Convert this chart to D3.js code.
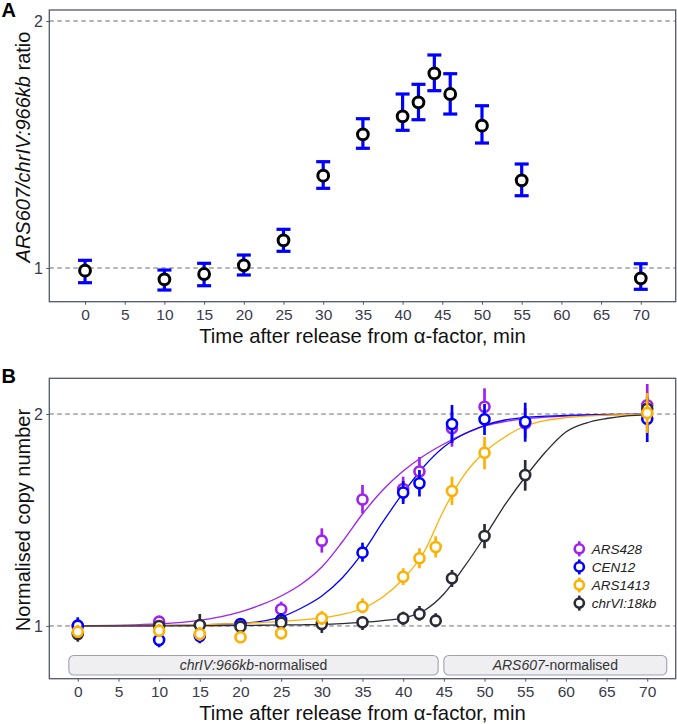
<!DOCTYPE html>
<html><head><meta charset="utf-8">
<script src="https://cdn.jsdelivr.net/npm/d3@7"></script>
<style>body{margin:0;background:#fff;} svg{display:block;font-family:"Liberation Sans",Arial,Helvetica,sans-serif;}</style>
</head><body><svg id="c" width="677" height="724"></svg>
<script>
// ---------- Panel A data ----------
const timesA = [0,10,15,20,25,30,35,40,42,44,46,50,55,70];
const ratioA   = [0.9925,0.9688,0.9833,1.0076,1.0808,1.2956,1.4553,1.5306,1.5919,1.7271,1.6295,1.4908,1.2790,0.9715];
const ratioLoA = [0.9596,0.9401,0.9515,0.9806,1.0480,1.2506,1.3993,1.4717,1.5161,1.6448,1.5405,1.4201,1.2249,0.9420];
const ratioHiA = [1.0218,0.9944,1.0133,1.0371,1.1147,1.3477,1.5204,1.6295,1.6745,1.8181,1.7251,1.5768,1.3389,1.0121];

const xTicks = [0,5,10,15,20,25,30,35,40,45,50,55,60,65,70];
const yTicks = [1,2];
const xTitle = "Time after release from \u03b1-factor, min";

// ---------- Panel B data ----------
const seriesNames  = ["ARS428","CEN12","ARS1413","chrVI:18kb"];
const seriesColors = ["#A020F0","#0000FF","#FFB000","#2B2B38"];

const ars428T  = [0,10,25,30,35,40,42,46,50,55,70];
const ars428V  = [1.0000,1.0142,1.0561,1.3217,1.5122,1.5650,1.6572,1.9086,2.0483,1.9400,2.0576];
const ars428Lo = [0.9774,0.9935,1.0299,1.2709,1.4455,1.5048,1.5805,1.7973,1.9293,1.8490,1.9230];
const ars428Hi = [1.0231,1.0333,1.0827,1.3763,1.5856,1.6292,1.7378,2.0131,2.1754,2.0396,2.2061];

const cen12T  = [0,10,15,20,25,35,40,42,46,50,55,70];
const cen12V  = [1.0010,0.9553,0.9678,1.0065,1.0198,1.2709,1.5473,1.5945,1.9356,1.9656,1.9503,1.9694];
const cen12Lo = [0.9742,0.9327,0.9450,0.9870,0.9967,1.2339,1.4902,1.5271,1.8190,1.8671,1.8268,1.8250];
const cen12Hi = [1.0288,0.9806,0.9935,1.0265,1.0434,1.3130,1.6066,1.6653,2.0598,2.0666,2.0752,2.1144];

const ars1413T  = [0,10,15,20,25,30,35,40,42,44,46,50,70];
const ars1413V  = [0.9815,0.9847,0.9742,0.9637,0.9764,1.0255,1.0651,1.1749,1.2477,1.2947,1.5549,1.7623,2.0065];
const ars1413Lo = [0.9615,0.9647,0.9521,0.9459,0.9568,1.0033,1.0424,1.1435,1.2077,1.2510,1.4854,1.6693,1.8795];
const ars1413Hi = [1.0033,1.0065,0.9967,0.9838,0.9967,1.0503,1.0948,1.2077,1.2892,1.3408,1.6292,1.8569,2.1422];

const chr6T  = [0,10,15,20,25,30,35,40,42,44,46,50,55,70];
const chr6V  = [0.9742,1.0000,1.0033,0.9977,1.0109,1.0065,1.0122,1.0255,1.0400,1.0175,1.1688,1.3421,1.6384,2.0350];
const chr6Lo = [0.9499,0.9806,0.9806,0.9774,0.9902,0.9774,0.9870,1.0033,1.0175,0.9958,1.1360,1.2892,1.5564,1.9739];
const chr6Hi = [1.0000,1.0198,1.0400,1.0175,1.0333,1.0299,1.0309,1.0479,1.0675,1.0424,1.2010,1.3958,1.7207,2.0935];

// fitted curves on a common time grid
const curveT = [0,10,15,20,22.5,25,27.5,30,32.5,35,37.5,40,42.5,45,47.5,50,52.5,55,57.5,60,62.5,65,67.5,70];
const ars428Fit  = [1.0000,1.0065,1.0181,1.0468,1.0711,1.1031,1.1472,1.2127,1.3160,1.4422,1.5600,1.6599,1.7434,1.8133,1.8736,1.9230,1.9515,1.9690,1.9793,1.9870,1.9916,1.9947,1.9967,1.9981];
const cen12Fit   = [1.0000,1.0013,1.0033,1.0082,1.0148,1.0299,1.0606,1.1031,1.1699,1.2696,1.4050,1.5448,1.6818,1.7954,1.8734,1.9262,1.9611,1.9773,1.9856,1.9916,1.9947,1.9967,1.9981,1.9988];
const ars1413Fit = [1.0000,1.0016,1.0039,1.0082,1.0112,1.0148,1.0198,1.0265,1.0383,1.0588,1.0995,1.1661,1.2696,1.4612,1.6384,1.7664,1.8553,1.9230,1.9578,1.9759,1.9856,1.9921,1.9954,1.9974];
const chr6Fit    = [1.0000,1.0000,1.0007,1.0016,1.0023,1.0033,1.0039,1.0049,1.0075,1.0115,1.0175,1.0265,1.0503,1.1103,1.2127,1.3377,1.4854,1.6276,1.7664,1.8856,1.9419,1.9708,1.9882,1.9947];

// normalisation strips
const stripItalic = ["chrIV:966kb","ARS607"];
const stripSuffix = "-normalised";
const stripFrom = [-1.1, 45.0];
const stripTo   = [44.3, 72.4];

// ---------- drawing ----------
const svg = d3.select("#c");
const tickCol = "#3a3a4c", frameCol = "#55556a", dashCol = "#6a6a7a";

function axes(g, x, y, box, yFont) {
  const xa = d3.axisBottom(x).tickValues(xTicks).tickFormat(d3.format("d")).tickSize(3).tickPadding(4.3);
  const gx = g.append("g").attr("transform", `translate(0,${box.b})`).call(xa);
  const ya = d3.axisLeft(y).tickValues(yTicks).tickFormat(d3.format("d")).tickSize(3).tickPadding(3.3);
  const gy = g.append("g").attr("transform", `translate(${box.l},0)`).call(ya);
  [gx, gy].forEach(a => {
    a.select(".domain").remove();
    a.selectAll(".tick line").attr("stroke", frameCol).attr("stroke-width", 1);
    a.selectAll(".tick text").attr("fill", tickCol).style("font-size", "15.5px")
      .style("font-family", '"Liberation Sans",Arial,sans-serif');
  });
  gy.selectAll(".tick text").style("font-size", yFont + "px");
  // dashed reference lines
  g.selectAll("line.ref").data(yTicks).join("line").attr("class", "ref")
    .attr("x1", box.l).attr("x2", box.r).attr("y1", d => y(d)).attr("y2", d => y(d))
    .attr("stroke", dashCol).attr("stroke-width", 1).attr("stroke-dasharray", "4.5,3.5");
  g.append("rect").attr("x", box.l).attr("y", box.t).attr("width", box.r - box.l).attr("height", box.b - box.t)
    .attr("fill", "none").attr("stroke", frameCol).attr("stroke-width", 1.3);
  g.append("text").attr("x", (box.l + box.r) / 2).attr("y", box.b + 40.8).attr("text-anchor", "middle")
    .style("font-size", "20.3px").attr("fill", "#111").text(xTitle);
}

// ----- Panel A -----
const boxA = {l: 49.3, r: 675.7, t: 10, b: 301.7};
const xA = d3.scaleLinear().domain([-4.5, 74.4]).range([boxA.l, boxA.r]);
const yA = d3.scaleLog().base(2).domain([0.9098, 2.0628]).range([boxA.b, boxA.t]);
const gA = svg.append("g");
axes(gA, xA, yA, boxA, 16);

const dataA = timesA.map((t, i) => ({t, v: ratioA[i], lo: ratioLoA[i], hi: ratioHiA[i]}));
const capW = 7;
const eb = gA.append("g").attr("stroke", "#0000FF").attr("stroke-width", 3.2);
eb.selectAll("line.v").data(dataA).join("line").attr("class", "v")
  .attr("x1", d => xA(d.t)).attr("x2", d => xA(d.t)).attr("y1", d => yA(d.lo)).attr("y2", d => yA(d.hi));
eb.selectAll("line.lo").data(dataA).join("line").attr("class", "lo")
  .attr("x1", d => xA(d.t) - capW).attr("x2", d => xA(d.t) + capW).attr("y1", d => yA(d.lo)).attr("y2", d => yA(d.lo));
eb.selectAll("line.hi").data(dataA).join("line").attr("class", "hi")
  .attr("x1", d => xA(d.t) - capW).attr("x2", d => xA(d.t) + capW).attr("y1", d => yA(d.hi)).attr("y2", d => yA(d.hi));
gA.selectAll("circle").data(dataA).join("circle")
  .attr("cx", d => xA(d.t)).attr("cy", d => yA(d.v)).attr("r", 5.4)
  .attr("fill", "#fff").attr("stroke", "#000").attr("stroke-width", 3);

const yTitleA = gA.append("text").attr("transform", `translate(30,147) rotate(-90)`).attr("text-anchor", "middle")
  .style("font-size", "20px").attr("fill", "#111");
yTitleA.append("tspan").style("font-style", "italic").text("ARS607/chrIV:966kb");
yTitleA.append("tspan").text(" ratio");

svg.append("text").attr("x", 1.5).attr("y", 17).style("font-size", "20px").style("font-weight", "bold").text("A");

// ----- Panel B -----
const boxB = {l: 49.3, r: 675.7, t: 378.3, b: 678.7};
const xB = d3.scaleLinear().domain([-3.5, 73.5]).range([boxB.l, boxB.r]);
const yB = d3.scaleLog().base(2).domain([0.8416, 2.2477]).range([boxB.b, boxB.t]);
const gB = svg.append("g");
axes(gB, xB, yB, boxB, 16);

// strips
const strips = stripItalic.map((s, i) => ({s, a: stripFrom[i], b: stripTo[i]}));
const sg = gB.selectAll("g.strip").data(strips).join("g").attr("class", "strip");
sg.append("rect").attr("x", d => xB(d.a)).attr("width", d => xB(d.b) - xB(d.a))
  .attr("y", boxB.b - 23.2).attr("height", 19.5).attr("rx", 5)
  .attr("fill", "#efeff2").attr("stroke", "#a0a0b6").attr("stroke-width", 1.1);
const st = sg.append("text").attr("x", d => (xB(d.a) + xB(d.b)) / 2).attr("y", boxB.b - 8.4)
  .attr("text-anchor", "middle").style("font-size", "14px").attr("fill", "#333");
st.append("tspan").style("font-style", "italic").text(d => d.s);
st.append("tspan").text(stripSuffix);

const seriesB = [
  {T: ars428T, V: ars428V, Lo: ars428Lo, Hi: ars428Hi, F: ars428Fit},
  {T: cen12T, V: cen12V, Lo: cen12Lo, Hi: cen12Hi, F: cen12Fit},
  {T: ars1413T, V: ars1413V, Lo: ars1413Lo, Hi: ars1413Hi, F: ars1413Fit},
  {T: chr6T, V: chr6V, Lo: chr6Lo, Hi: chr6Hi, F: chr6Fit}
].map((s, i) => ({...s, name: seriesNames[i], color: seriesColors[i]}));

const line = d3.line().x(d => xB(d[0])).y(d => yB(d[1])).curve(d3.curveMonotoneX);
seriesB.forEach(s => {
  gB.append("path").datum(curveT.map((t, i) => [t, s.F[i]])).attr("d", line)
    .attr("fill", "none").attr("stroke", s.color).attr("stroke-width", 1.3);
});
// draw order: ARS428, CEN12, chrVI:18kb, ARS1413
[0, 1, 3, 2].forEach(k => {
  const s = seriesB[k];
  const pts = s.T.map((t, i) => ({t, v: s.V[i], lo: s.Lo[i], hi: s.Hi[i]}));
  const g = gB.append("g");
  g.selectAll("line").data(pts).join("line")
    .attr("x1", d => xB(d.t)).attr("x2", d => xB(d.t)).attr("y1", d => yB(d.lo)).attr("y2", d => yB(d.hi))
    .attr("stroke", s.color).attr("stroke-width", 2.7);
  g.selectAll("circle").data(pts).join("circle")
    .attr("cx", d => xB(d.t)).attr("cy", d => yB(d.v)).attr("r", 5)
    .attr("fill", "#fff").attr("stroke", s.color).attr("stroke-width", 2.6);
});

// legend
const leg = gB.append("g").attr("transform", "translate(579.3,548.8)");
const li = leg.selectAll("g").data(seriesB).join("g").attr("transform", (d, i) => `translate(0,${i * 18.1})`);
li.append("line").attr("y1", -7.5).attr("y2", 7.5).attr("stroke", d => d.color).attr("stroke-width", 2.6);
li.append("circle").attr("r", 4.6).attr("fill", "#fff").attr("stroke", d => d.color).attr("stroke-width", 2.6);
li.append("text").attr("x", 12.4).attr("y", 4.8).style("font-size", "13.5px").style("font-style", "italic")
  .attr("fill", "#222").text(d => d.name);

const yTitleB = gB.append("text").attr("transform", `translate(30,520) rotate(-90)`).attr("text-anchor", "middle")
  .style("font-size", "20px").attr("fill", "#111").text("Normalised copy number");

svg.append("text").attr("x", 1.5).attr("y", 383).style("font-size", "20px").style("font-weight", "bold").text("B");
</script></body></html>
